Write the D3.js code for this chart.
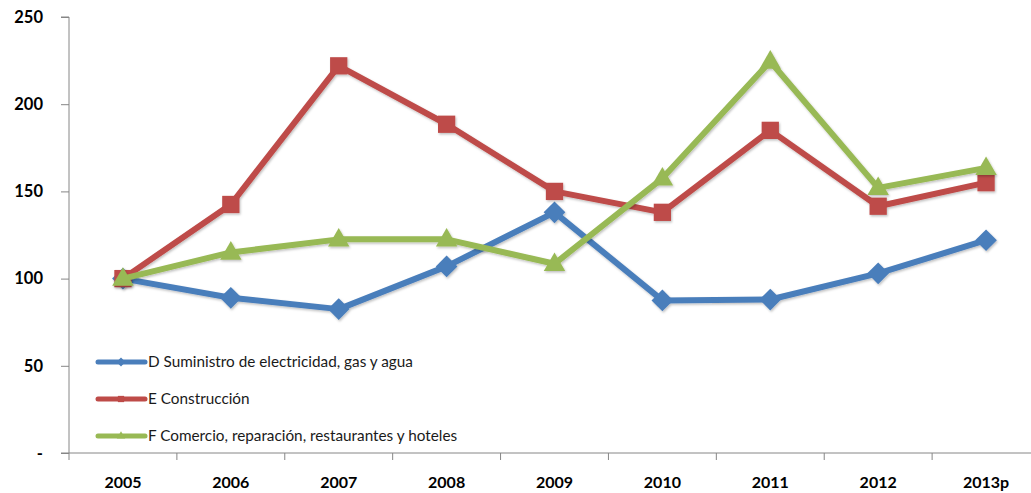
<!DOCTYPE html>
<html>
<head>
<meta charset="utf-8">
<script src="https://cdn.jsdelivr.net/npm/d3@7"></script>
<style>
  html, body { margin: 0; padding: 0; background: #fff; }
  svg { display: block; }
</style>
</head>
<body>
<svg id="chart" width="1031" height="493"></svg>
<script>
// Índices por rama de actividad (2005 = 100)
const years = ["2005", "2006", "2007", "2008", "2009", "2010", "2011", "2012", "2013p"];
const yTicks = [0, 50, 100, 150, 200, 250];

const suministro = [100, 89, 82.5, 107, 138, 87.5, 88, 103, 122];
const construccion = [100, 142.5, 222, 188.5, 150, 138, 185, 141.5, 155];
const comercio = [100, 115, 122.5, 122.5, 108.5, 157.5, 224.5, 152, 163.5];

const seriesNames = [
  "D Suministro de electricidad, gas y agua",
  "E Construcción",
  "F Comercio, reparación, restaurantes y hoteles"
];
const seriesColors = ["#4a7ebb", "#be4b48", "#98b954"];
const seriesSymbols = [d3.symbolDiamond2, d3.symbolSquare2, d3.symbolTriangle2];

const series = [suministro, construccion, comercio].map((values, i) => ({
  name: seriesNames[i], color: seriesColors[i], symbol: seriesSymbols[i], values
}));

const svg = d3.select("#chart");
const font = "Lato, 'Open Sans', sans-serif";

const x = d3.scaleBand().domain(years).range([69, 1040]);
const y = d3.scaleLinear().domain([0, 250]).range([453, 17]);

const defs = svg.append("defs");
const shadow = defs.append("filter").attr("id", "shadow")
  .attr("x", "-20%").attr("y", "-20%").attr("width", "140%").attr("height", "140%");
shadow.append("feDropShadow").attr("dx", 1).attr("dy", 1.5).attr("stdDeviation", 1.2)
  .attr("flood-color", "#000").attr("flood-opacity", 0.25);

// Eje Y
const yAxis = svg.append("g").attr("transform", "translate(69,0)")
  .call(d3.axisLeft(y).tickValues(yTicks).tickSize(8).tickPadding(18)
    .tickFormat(d => d === 0 ? "-" : d3.format("d")(d)));
yAxis.select(".domain").attr("stroke", "#868686").attr("d", "M-8,17H0V453H-8");
yAxis.selectAll(".tick line").attr("stroke", "#868686");
yAxis.selectAll(".tick text").attr("font-family", font).attr("font-weight", "bold")
  .attr("font-size", 16.5).attr("fill", "#000");

// Eje X
const xAxis = svg.append("g").attr("transform", "translate(0,453)")
  .call(d3.axisBottom(x).tickSize(0).tickPadding(24));
xAxis.select(".domain").attr("stroke", "#868686").attr("d", "M69,0H1040");
xAxis.selectAll(".tick text").attr("font-family", font).attr("font-weight", "bold")
  .attr("font-size", 16).attr("fill", "#000");
// Marcas entre categorías
xAxis.append("g").selectAll("line")
  .data(years)
  .join("line")
  .attr("x1", d => x(d)).attr("x2", d => x(d))
  .attr("y1", 0).attr("y2", 7)
  .attr("stroke", "#868686");

const cx = d => x(d) + x.bandwidth() / 2;
const line = d3.line().x((d, i) => cx(years[i])).y(d => y(d));

const plot = svg.append("g");
series.forEach(s => {
  const g = plot.append("g").attr("filter", "url(#shadow)");
  g.append("path").attr("d", line(s.values)).attr("fill", "none")
    .attr("stroke", s.color).attr("stroke-width", 6).attr("stroke-linejoin", "round");
  const size = s.symbol === d3.symbolTriangle2 ? 330 : (s.symbol === d3.symbolSquare2 ? 380 : 300);
  g.selectAll("path.mk").data(s.values).join("path").attr("class", "mk")
    .attr("d", d3.symbol().type(s.symbol).size(size))
    .attr("transform", (d, i) => `translate(${cx(years[i])},${y(d) + (s.symbol === d3.symbolTriangle2 ? 1 : 0)})`)
    .attr("fill", s.color);
});

// Leyenda
const legendY = [362, 399, 436];
const legend = svg.append("g");
series.forEach((s, i) => {
  const g = legend.append("g").attr("transform", `translate(0,${legendY[i]})`);
  g.append("line").attr("x1", 98).attr("x2", 145).attr("y1", 0).attr("y2", 0)
    .attr("stroke", s.color).attr("stroke-width", 5).attr("stroke-linecap", "round");
  g.append("path").attr("d", d3.symbol().type(s.symbol).size(50))
    .attr("transform", "translate(121,0)").attr("fill", s.color);
  g.append("text").attr("x", 148).attr("y", 0).attr("dy", "0.35em")
    .attr("font-family", font).attr("font-size", 15.3).attr("fill", "#1a1a1a")
    .text(s.name);
});
</script>
</body>
</html>
